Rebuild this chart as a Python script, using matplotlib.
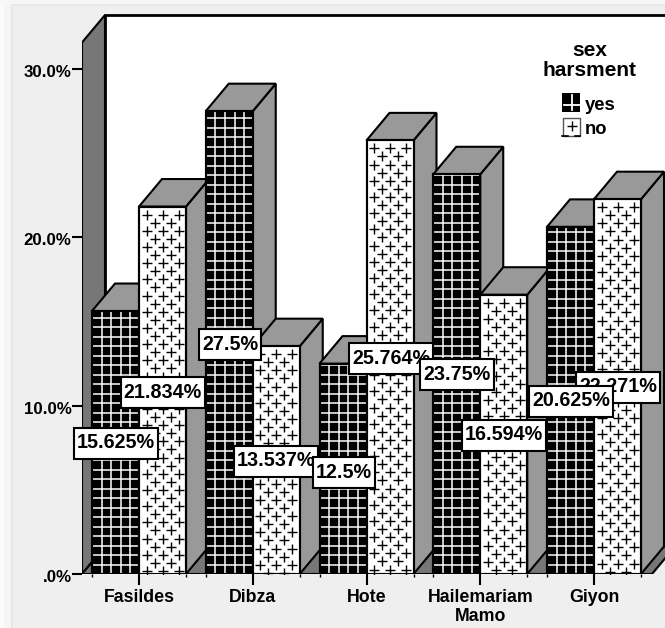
import numpy as np
import matplotlib
matplotlib.use('Agg')
import matplotlib.pyplot as plt
from matplotlib.patches import Polygon, Rectangle
from matplotlib.transforms import ScaledTranslation

categories = ['Fasildes', 'Dibza', 'Hote', 'Hailemariam\nMamo', 'Giyon']
yes_values = [15.625, 27.5, 12.5, 23.75, 20.625]
no_values = [21.834, 13.537, 25.764, 16.594, 22.271]
y_ticks = [0, 10, 20, 30]
y_tick_labels = ['.0%', '10.0%', '20.0%', '30.0%']

# centre of each value box in pixels, in drawing order
box_pos = [(116, 443), (163, 392), (230, 344), (276, 461), (344, 472),
           (391, 358), (618, 387), (457, 374), (504, 435), (571, 401)]
box_text = ['15.625%', '21.834%', '27.5%', '13.537%', '12.5%',
            '25.764%', '22.271%', '23.75%', '16.594%', '20.625%']

W, H = 665, 628
plt.rcParams['font.family'] = ['Liberation Sans', 'DejaVu Sans']
plt.rcParams['font.weight'] = 'bold'

DARK = '#777777'
SIDE = '#999999'
BG = '#efefef'

fig = plt.figure(figsize=(W / 100, H / 100), dpi=100, facecolor=BG)


def px_rect(x, y, w, h, **kw):
    # rectangle in image pixels, y measured from the top
    r = Rectangle((x / W, 1 - (y + h) / H), w / W, h / H, transform=fig.transFigure, lw=kw.pop('lw', 0), **kw)
    fig.add_artist(r)
    return r


# pale strips round the edge of the frame
px_rect(0, 0, 11, H, fc='#f5f5f5', zorder=-5)
px_rect(0, 0, 4, H, fc='#fbfbfb', zorder=-4)
px_rect(11, 5, 2, H, fc='#e7e7e7', zorder=-4)
px_rect(0, 0, W, 4, fc='#f7f7f7', zorder=-3)
px_rect(11, 4, W, 1.5, fc='#e8e8e8', zorder=-3)

# axes spans the plot box: left wall edge to the right of the image, floor to top
left, right, top, bottom = 82, 665, 15, 574
ax = fig.add_axes([left / W, 1 - bottom / H, (right - left) / W, (bottom - top) / H])
px_x = 113.75   # pixels per category
px_y = 16.83    # pixels per percent
ax.set_xlim(-(139 - left) / px_x, (right - 139) / px_x)
ax.set_ylim(0, (bottom - top) / px_y)
ax.patch.set_visible(False)
for s in ax.spines.values():
    s.set_visible(False)

dx = 23 / px_x
dy = 27.5 / px_y
x0, x1 = ax.get_xlim()
y1 = ax.get_ylim()[1]
floor_right = x0 + (652 - left) / px_x
bar_w = 47 / px_x
lw = 1.5

# walls and floor
ax.add_patch(Rectangle((x0 + dx, dy), 10, y1 - dy, fc='white', ec='black', lw=2, zorder=1, clip_on=False))
ax.add_patch(Polygon([(x0, 0), (x0 + dx, dy), (x0 + dx, y1), (x0, y1 - dy)], fc=DARK, ec='black', lw=lw, zorder=2))
ax.add_patch(Polygon([(x0, 0), (floor_right, 0), (floor_right + dx, dy), (x0 + dx, dy)], fc=DARK, ec='black', lw=lw, zorder=2))

z = 3


def draw_box(xl, h, solid):
    global z
    xr = xl + bar_w
    ax.add_patch(Polygon([(xr, 0), (xr + dx, dy), (xr + dx, h + dy), (xr, h)], fc=SIDE, ec='black', lw=lw, zorder=z))
    ax.add_patch(Polygon([(xl, h), (xr, h), (xr + dx, h + dy), (xl + dx, h + dy)], fc=SIDE, ec='black', lw=lw, zorder=z))
    bar = ax.bar(xl, h, bar_w, align='edge', fc='black' if solid else 'white', ec='black', lw=lw, zorder=z + 0.1)[0]
    if solid:
        # white grid over the black face
        xs = np.arange(xl + 9.6 / px_x, xr, 9.6 / px_x)
        ys = np.arange(9.5 / px_y, h, 9.5 / px_y)
        lines = [ax.vlines(xs, 0, h, color='white', lw=1.1, zorder=z + 0.2),
                 ax.hlines(ys, xl, xr, color='white', lw=1.1, zorder=z + 0.2)]
    else:
        # staggered plus marks
        lines = []
        rows = np.arange(h - 8 / px_y, 0, -8.1 / px_y)
        for i, yy in enumerate(rows):
            start = 7.7 if i % 2 == 0 else 15.7
            xs = np.arange(xl + start / px_x, xr, 16 / px_x)
            lines += ax.plot(xs, [yy] * len(xs), '+', color='black', ms=6.8, mew=1.0, zorder=z + 0.2)
    for ln in lines:
        ln.set_clip_path(bar)
    # redraw the outline over the pattern
    ax.add_patch(Rectangle((xl, 0), bar_w, h, fc='none', ec='black', lw=lw, zorder=z + 0.3))
    z += 1


for i in range(len(categories)):
    draw_box(i - bar_w, yes_values[i], True)
    draw_box(i, no_values[i], False)

# ticks
ax.set_yticks(y_ticks)
ax.set_yticklabels(y_tick_labels, fontsize=12.2, fontweight='bold')
ax.tick_params(axis='y', length=7.5, width=1.5, pad=0, color='black')
nudge = ScaledTranslation(0, -2 / 100, fig.dpi_scale_trans)
for lab in ax.get_yticklabels():
    lab.set_transform(lab.get_transform() + nudge)
ax.set_xticks(range(len(categories)))
ax.set_xticklabels(categories, fontsize=12.8, fontweight='bold', linespacing=1.15)
ax.tick_params(axis='x', length=8, width=1.5, pad=3)
minor = [i - bar_w for i in range(5)] + [i + bar_w for i in range(5)]
ax.set_xticks(minor, minor=True)
ax.tick_params(axis='x', which='minor', length=2.5, width=1)


def px_text(x, y, s, **kw):
    return fig.text(x / W, 1 - y / H, s, ha='center', va='center', **kw)


# value boxes on top of everything, each sized from its text
renderer = fig.canvas.get_renderer()
for n, ((bx, by), s) in enumerate(zip(box_pos, box_text)):
    t = px_text(bx, by, s, fontsize=14.2, fontweight='bold', zorder=21 + 2 * n)
    tw = t.get_window_extent(renderer).width
    px_rect(bx - tw / 2 - 3, by - 15.5, tw + 6, 31, fc='white', ec='black', lw=1.5, zorder=20 + 2 * n)

# legend
px_text(590, 50, 'sex', fontsize=15, fontweight='bold')
px_text(590, 70.5, 'harsment', fontsize=15, fontweight='bold')

px_rect(562, 93, 18, 19, fc='black', zorder=10)
fig.add_artist(plt.Line2D([572 / W] * 2, [1 - 95 / H, 1 - 110 / H], color='white', lw=1.3, zorder=11))
fig.add_artist(plt.Line2D([564 / W, 580 / W], [1 - 105 / H] * 2, color='white', lw=1.3, zorder=11))

px_rect(562.5, 118.5, 17, 17, fc='white', ec='#555555', lw=1, zorder=10)
fig.add_artist(plt.Line2D([572 / W], [1 - 126 / H], marker='+', color='black', ms=7, mew=1, zorder=11))
# darker lower corners of the small square
fig.add_artist(plt.Line2D([562 / W, 568 / W], [1 - 136 / H] * 2, color='black', lw=1.2, zorder=11))
fig.add_artist(plt.Line2D([575 / W, 580 / W], [1 - 136 / H] * 2, color='black', lw=1.2, zorder=11))

fig.text(584.5 / W, 1 - 105.5 / H, 'yes', fontsize=13.2, fontweight='bold', va='center')
fig.text(585 / W, 1 - 129.5 / H, 'no', fontsize=13.2, fontweight='bold', va='center')

fig.savefig('out.png', dpi=100, facecolor=BG)
